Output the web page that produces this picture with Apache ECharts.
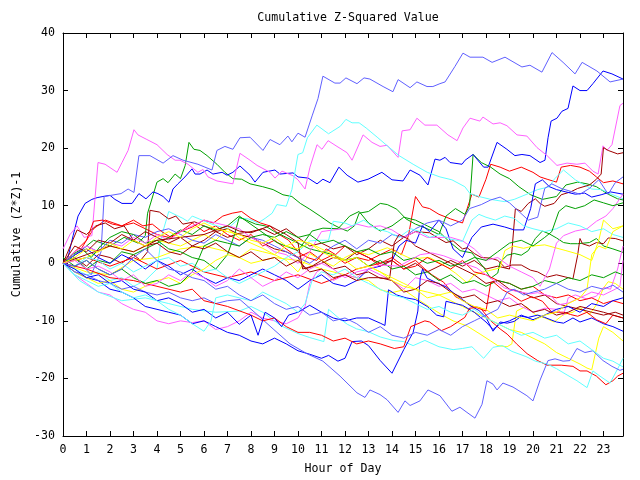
<!DOCTYPE html>
<html><head><meta charset="utf-8">
<script src="https://cdn.jsdelivr.net/npm/echarts@6/dist/echarts.min.js"></script>
<style>html,body{margin:0;padding:0;background:#fff}#c{width:640px;height:480px}</style>
</head><body><div id="c"></div><script>
// ---- Data: [hour, cumulative (Z*Z)-1] ----
const xTickLabels = ['0','1','2','3','4','5','6','7','8','9','10','11','12','13','14','15','16','17','18','19','20','21','22','23'];
const yTickValues = [-30,-20,-10,0,10,20,30,40];

const sb1 = [[0,0],[0.5,1],[1.2,-2],[1.62,2],[1.75,11.6],[2.47,12.1],[2.77,12.9],[3.02,12.3],[3.23,18.7],[3.7,18.7],[4.26,17.4],[4.68,18.7],[5.11,17.9],[5.74,17.2],[6.04,16.7],[6.34,16.2],[6.55,19.6],[6.89,20.3],[7.23,19.8],[7.53,21.8],[7.96,21.9],[8.51,19.6],[8.81,21.5],[9.23,20.6],[9.57,22.1],[9.74,21.1],[10.0,22.6],[10.3,21.9],[10.6,25.6],[10.85,28.6],[11.06,32.5],[11.57,31.3],[11.79,31.3],[12.04,32.2],[12.51,31.2],[12.81,32.2],[13.06,32.0],[13.62,30.7],[14.04,29.8],[14.26,31.9],[14.77,30.5],[15.06,31.5],[15.49,30.7],[15.74,30.7],[16.04,31.2],[16.26,31.5],[16.68,34.2],[17.02,36.5],[17.32,35.8],[17.87,35.8],[18.26,34.9],[18.81,35.8],[19.53,34.1],[19.87,34.4],[20.38,33.2],[20.81,36.6],[21.28,34.9],[21.79,32.9],[22.09,34.9],[22.72,33.4],[23.28,31.5],[23.83,32.0]];
const b1 = [[0,0],[0.2,0.8],[0.43,4.8],[0.64,8.2],[0.94,10.4],[1.23,11.1],[1.45,11.4],[1.7,11.6],[2.0,11.8],[2.21,11.1],[2.51,10.4],[2.94,10.4],[3.23,12.1],[3.53,11.2],[3.83,12.4],[4.04,12.1],[4.26,11.6],[4.51,10.6],[4.68,12.9],[4.89,13.8],[5.19,15],[5.49,16.4],[5.62,15.5],[5.83,15.5],[6.13,16.2],[6.38,15.5],[6.77,15.8],[6.98,15.3],[7.23,15.8],[7.53,16.9],[7.96,15.3],[8.17,14.1],[8.51,15.8],[9.02,16.2],[9.23,15.5],[9.79,15.7],[10.0,15],[10.43,14.8],[10.81,13.8],[11.06,14.6],[11.36,14.0],[11.74,16.7],[12.09,15.3],[12.55,14.1],[12.98,14.6],[13.57,15.8],[14.0,14.5],[14.47,14.3],[14.77,16.2],[15.19,15.3],[15.53,13.6],[15.83,18.1],[16.04,17.9],[16.26,18.4],[16.47,17.5],[16.98,17.2],[17.11,17.9],[17.45,18.9],[17.9,16.7],[18.09,16.7],[18.47,21],[18.89,19.8],[19.23,18.7],[19.53,18.9],[19.87,18.7],[20.3,17.5],[20.51,17.9],[20.64,21.8],[20.77,24.7],[21.02,25.2],[21.23,26.4],[21.49,26.9],[21.7,30.8],[22.0,30],[22.3,30],[22.55,31.2],[22.98,33.4],[23.36,32.9],[23.83,32.0]];
const m1 = [[0,2.5],[0.3,5],[0.6,6.5],[0.9,4.5],[1.23,4.8],[1.49,17.5],[1.79,17.2],[2.3,15.8],[2.51,17.5],[2.77,19.6],[3.02,23.2],[3.19,22.3],[3.57,21.5],[4.0,20.6],[4.43,18.9],[4.77,17.9],[4.98,17.9],[5.32,17.2],[5.74,15.8],[5.96,16.3],[6.17,15],[6.55,14.3],[7.23,13.8],[7.53,19.1],[7.96,17.9],[8.26,17],[8.81,15.8],[9.02,14.8],[9.32,16],[9.79,15.2],[10.0,14.5],[10.3,12.9],[10.51,16.7],[10.81,20.6],[11.02,19.8],[11.28,21.3],[11.66,20.3],[12.09,19.2],[12.3,17.9],[12.77,22.3],[13.15,21],[13.49,20.3],[13.79,20.5],[14.26,18.4],[14.43,23],[14.77,23.2],[15.06,25.2],[15.4,24],[15.91,24],[16.38,22.3],[16.77,21.3],[17.02,23.5],[17.32,25.2],[17.74,24.7],[17.87,25.4],[18.3,24.2],[18.6,24.4],[18.89,23.9],[19.32,22.3],[19.74,22.1],[20.17,20.1],[20.6,18.7],[21.02,17],[21.45,17.4],[21.87,17.2],[22.21,17.4],[22.55,16],[22.77,15.5],[22.98,20.4],[23.15,19.6],[23.36,20.6],[23.7,27.4],[23.83,27.8]];
const c1 = [[0,0],[0.5,-1],[1,-2],[1.5,-1.5],[2,-3],[2.5,-2.5],[3,-4],[3.5,-3],[4.0,-1],[4.2,4.8],[4.5,9],[5.1,7.8],[5.3,7.3],[5.5,8.2],[5.8,7.7],[6.2,7],[6.55,6.5],[7,6],[7.5,7.8],[7.9,7.7],[8.3,7],[8.6,7.8],[8.9,8.7],[9.1,10.2],[9.5,9.9],[9.74,12.8],[10.0,18.9],[10.2,19.2],[10.4,21.8],[10.8,24],[11.3,22.5],[11.8,23.8],[12.04,25],[12.3,24.4],[12.6,24.4],[12.9,23.5],[13.4,21.8],[13.8,20.4],[14.3,18.7],[14.9,17.2],[15.5,15.8],[16.04,15],[16.55,14.5],[17.1,13.3],[17.32,12.1],[17.7,11.6],[18.2,11.1],[18.8,10.7],[19.2,11.1],[19.8,12.1],[20.2,12.8],[20.7,13.3],[20.9,14.6],[21.3,16.2],[21.8,14.5],[22.1,13.8],[22.5,12.9],[22.9,12.8],[23.4,11.9],[23.83,11.2]];
const g1 = [[0,0],[0.7,2],[1.3,4],[2,3],[2.6,4.5],[3.2,3.5],[3.5,4.8],[3.6,8.7],[4.0,14.1],[4.26,14.7],[4.47,14],[4.77,15.5],[5.0,14.7],[5.2,17],[5.36,21],[5.57,19.8],[5.83,19.6],[6.13,18.7],[6.55,17.2],[6.89,15.8],[7.23,14.7],[7.6,14.6],[7.96,13.8],[8.5,13.3],[8.94,12.8],[9.36,11.9],[9.74,11.6],[10.1,10.4],[10.5,9.4],[10.94,8.2],[11.36,7],[11.79,6.1],[12.1,5.6],[12.4,6.5],[12.6,8.7],[13.0,9.0],[13.5,10.4],[13.8,10.2],[14.2,9.4],[14.6,7.7],[15.0,6.8],[15.5,6.0],[16.0,5.0],[16.3,8.2],[16.7,9.5],[17.1,8.5],[17.3,10],[17.45,18.9],[17.8,17.5],[18.2,16.7],[18.6,15.5],[19.0,14.7],[19.4,13.3],[19.9,11.9],[20.4,11.1],[21.0,11.6],[21.4,13.6],[21.9,14.1],[22.3,13.8],[22.7,13.3],[23.2,12],[23.6,11.2],[23.83,11]];
const g2 = [[0,0],[0.5,1],[1,-1],[1.5,0.5],[2,0],[2.5,2],[3,1.5],[3.5,2.5],[4,3.5],[4.5,4.5],[5,5.8],[5.5,5],[6,6.5],[6.5,5.8],[7,6.5],[7.5,8.2],[8.3,5.9],[9.1,3.6],[9.6,2.8],[10,2.2],[10.3,3.9],[10.6,5.6],[11.06,6.1],[11.7,6.0],[12,7.3],[12.2,8.2],[12.6,9],[13,7],[13.5,5.6],[14,6.5],[14.5,8],[15,7.5],[15.5,6.5],[16,5.5],[16.4,3.9],[16.9,2.2],[17.4,1.8],[17.9,-0.7],[18.2,-2.6],[18.5,-1.7],[18.6,0.2],[18.9,1.4],[19.2,1.7],[19.5,1.4],[19.8,2.2],[20.1,4.3],[20.4,5.6],[20.7,5.1],[21,4.4],[21.3,3.6],[21.6,3.4],[21.9,3.4],[22.4,3.6],[22.7,4.3],[23,3],[23.4,2.5],[23.83,1.9]];
const g3 = [[0,0],[0.4,1.5],[0.8,2.5],[1.2,1],[1.6,3],[2,4.5],[2.5,5.5],[3,5],[3.5,3.5],[4,4],[4.5,2.5],[5,2],[5.5,1],[6,0.5],[6.5,-1],[7,1.5],[7.3,5],[7.5,8],[7.8,7.5],[8.2,6.8],[8.6,6.5],[9,5.5],[9.5,4.5],[10,3.5],[10.5,2.5],[11,2],[11.5,1.5],[12,0.5],[12.5,1],[13,-0.5],[13.5,0.5],[14,-1],[14.5,-0.5],[15,-2],[15.5,-1.5],[16,-3],[16.5,-2],[17,-3.5],[17.5,-3],[18,-4],[18.5,-3],[19,-3.5],[19.5,-4.5],[20,-4],[20.5,-3],[21,-3.5],[21.5,-2.5],[22,-3],[22.5,-2],[23,-2.5],[23.5,-1.5],[23.83,-2]];
const g4 = [[0,1],[0.5,-0.5],[1,0.5],[1.5,-1],[2,-2],[2.5,-1],[3,-2.5],[3.5,-3.5],[4,-3],[4.5,-4],[5,-3.5],[5.5,-1.5],[5.8,1],[6,3],[6.5,4],[7,3.5],[7.5,3],[8,4.5],[8.5,5],[9,4.5],[9.5,5.5],[10,4.5],[10.5,5],[11,3.5],[11.5,4],[12,3],[12.5,2],[13,2.5],[13.5,1.5],[14,2],[14.5,0.5],[15,1],[15.5,0],[16,0.5],[16.5,-0.5],[17,0],[17.5,1],[18,0.5],[18.5,2],[19,3.5],[19.5,4],[20,3],[20.5,4.5],[20.8,5.5],[21.1,9],[21.4,10],[21.8,9.5],[22.2,10],[22.6,11],[23,10.5],[23.4,10],[23.83,10.5]];
const b2 = [[0,0],[0.5,1.5],[1,2.5],[1.5,1],[2,0],[2.5,1.5],[3,0.5],[3.5,-1],[4,0.5],[4.5,-0.5],[5,-2],[5.5,-1],[6,-2.5],[6.5,-3.5],[7,-2.5],[7.5,-3],[8,-2],[8.5,-1],[9,-2],[9.5,-3],[10,-4.5],[10.5,-3],[11,-2],[11.5,-3.5],[12,-4],[12.5,-3],[13,-1],[13.5,-0.5],[14,0.5],[14.3,3],[14.6,4],[15,3.5],[15.3,6.5],[15.6,5.5],[16,7.5],[16.3,6],[16.6,2.5],[17,1],[17.4,4.5],[17.8,6.3],[18.3,6.8],[18.8,6.3],[19.2,5.8],[19.6,5.8],[19.9,9.5],[20.1,13.8],[20.4,14.5],[20.7,13.3],[21,12.8],[21.4,12.4],[21.8,12],[22.2,12.2],[22.5,11.5],[22.9,11.9],[23.3,12.4],[23.83,12]];
const b3 = [[0,0],[0.5,-1.5],[1,-2.5],[1.5,-3],[2,-4.5],[2.5,-5],[3,-6],[3.5,-7.5],[4,-8],[4.5,-8.5],[5,-9],[5.5,-10.5],[6,-10],[6.5,-11],[7,-12],[7.5,-12.5],[8,-13.5],[8.5,-14],[9,-13],[9.5,-14],[10,-15.2],[10.5,-15.8],[11,-16.5],[11.3,-16],[11.7,-17],[12,-16.5],[12.3,-13.6],[12.7,-13.5],[13,-14.3],[13.5,-16.9],[14.0,-19.1],[14.5,-15],[14.9,-12],[15.1,-8.3],[15.2,-2.6],[15.3,-1],[15.5,-2.6],[15.9,-3.4],[16.3,-4.1],[16.6,-5.1],[17.0,-6.3],[17.3,-7.3],[17.7,-8.2],[18.0,-9.4],[18.3,-11.8],[18.6,-10.2],[18.9,-10.4],[19.2,-10.1],[19.5,-9.2],[19.8,-9.4],[20.2,-9],[20.5,-9.4],[21.0,-10.2],[21.3,-10.4],[21.7,-9.5],[22.0,-10.2],[22.5,-9.5],[23,-10.5],[23.4,-11],[23.83,-11.8]];
const b4 = [[0,0],[0.5,-1],[1,-2.5],[1.5,-2],[2,-3.5],[2.5,-3],[3,-4.5],[3.5,-5],[4,-6.5],[4.5,-6],[5,-7],[5.5,-8.5],[6,-8],[6.5,-9.5],[7,-8.5],[7.5,-10.6],[8,-9],[8.3,-12.5],[8.6,-8.5],[9,-9.5],[9.3,-11],[9.6,-9],[10,-8.5],[10.5,-7.3],[11,-8.5],[11.5,-9.5],[12,-10],[12.5,-9.5],[13,-9.5],[13.5,-10.4],[13.7,-10.8],[13.85,-4.6],[14.2,-5.5],[14.6,-6],[15,-6.3],[15.5,-7.5],[15.9,-9],[16.2,-9.3],[16.3,-6.6],[16.7,-7],[17,-7.3],[17.5,-8.5],[18,-10.2],[18.3,-11.5],[18.6,-10.5],[19,-10],[19.5,-9],[20,-9.8],[20.5,-9],[21,-8],[21.5,-7.5],[22,-8.5],[22.5,-7],[23,-7.5],[23.4,-6.5],[23.83,-6]];
const m2 = [[0,0],[0.5,-2],[1,-3.5],[1.5,-5],[2,-5.5],[2.5,-7],[3,-8],[3.5,-8.5],[4,-10],[4.5,-10.5],[5,-10],[5.5,-10.3],[6,-10],[6.5,-11.5],[7,-11],[7.5,-10],[8,-8.5],[8.5,-9.5],[9,-10],[9.5,-10.5],[10,-9.5],[10.3,-7.5],[10.5,-3.5],[10.8,-1.5],[11,-1],[11.5,-3],[12,-2],[12.5,-2.5],[13,-1],[13.5,-2],[14,-3],[14.5,-4.5],[15,-2.5],[15.5,-3],[16,-4],[16.5,-3.5],[17,-5],[17.5,-4.5],[18,-5.5],[18.5,-6.5],[19,-6],[19.5,-7.5],[20,-8.5],[20.5,-7.8],[21,-8],[21.3,-9],[21.5,-6],[21.8,-5.5],[22,-5.8],[22.3,-6.2],[22.7,-5.7],[23,-4.2],[23.3,-4.5],[23.6,-1],[23.83,3]];
const m3 = [[0,0],[0.5,2],[1,3],[1.5,2],[2,3.5],[2.5,3],[3,4.5],[3.5,3.5],[4,5],[4.5,4],[5,5.5],[5.5,6.5],[6,7.5],[6.5,7],[7,6.5],[7.5,6],[8,4.5],[8.5,3.5],[9,2],[9.5,1.5],[10,0],[10.5,2],[11,5.5],[11.5,5.8],[12,6],[12.5,6.8],[13,6.3],[13.5,6.5],[14,5.8],[14.5,4.5],[15,5.5],[15.5,4.5],[16,4.5],[16.5,4.5],[17,3.9],[17.5,2.5],[18,0.5],[18.5,1],[19,-0.5],[19.5,-1.5],[20,-2.5],[20.3,-4],[20.7,-1],[21,3.5],[21.3,4.8],[21.8,5.6],[22.3,6],[22.7,7.3],[23.1,8.2],[23.4,9.5],[23.83,12]];
const m4 = [[0,0],[0.5,0.5],[1,-1],[1.5,-0.5],[2,-1.5],[2.5,-3],[3,-2],[3.5,-4],[4,-3.5],[4.5,-2],[5,-3],[5.5,-1.5],[6,-2.5],[6.5,-4],[7,-3],[7.5,-1],[8,-2.5],[8.5,-4],[9,-3],[9.5,-1.5],[10,-2.5],[10.5,-1],[11,0],[11.5,-1],[12,-2.5],[12.5,-1.5],[13,-1],[13.5,-0.3],[14.3,-0.5],[15.2,1.5],[15.7,1.8],[16.2,1.3],[16.9,0.2],[17.6,-0.8],[18.2,-2.6],[18.8,-4.3],[19.3,-4.9],[19.9,-5.3],[20.2,-5.1],[20.8,-5.8],[21.1,-7.2],[21.5,-6.9],[22,-6],[22.5,-5],[23,-5.5],[23.5,-4.5],[23.7,-4],[23.83,0.5]];
const c2 = [[0,0],[0.7,-3],[1.5,-5],[2.5,-6.5],[3.5,-6],[4.5,-7],[5.5,-8],[6.5,-8.5],[7.5,-8.3],[8,-7.5],[8.5,-8.5],[9.3,-10.9],[10,-12.2],[10.5,-12.9],[11.1,-13.6],[11.3,-8],[11.7,-9.4],[12.1,-10.6],[12.5,-11.4],[13,-11.9],[13.5,-12.8],[14.05,-13.4],[14.5,-13.6],[14.9,-14.3],[15.4,-13.4],[16.0,-14.5],[16.6,-15],[17.0,-14.8],[17.4,-14.5],[17.9,-16.5],[18.3,-14.6],[18.7,-14.3],[19.1,-15.3],[19.7,-16.2],[20.1,-17],[20.6,-17.5],[21.0,-18.3],[21.45,-19.4],[21.87,-20.4],[22.3,-21.6],[22.55,-18.7],[22.85,-19.6],[23.28,-20.8],[23.62,-18.2],[23.83,-16.5]];
const c3 = [[0,0],[0.5,-0.5],[1,1],[1.5,0.5],[2,-1],[2.5,0],[3,-1.5],[3.5,-0.5],[4,0.5],[4.5,1],[5,-0.5],[5.5,0],[6,-1.5],[6.5,-1],[7,-2.5],[7.5,-3.5],[8,-2.5],[8.5,-1.5],[9,-0.5],[9.5,1],[10,2],[10.5,3.9],[11,4],[11.3,4],[11.5,7.3],[12,7],[12.3,6.5],[12.8,7.5],[13.3,6],[13.8,5.5],[14.3,4.5],[14.8,6],[15.2,5.5],[15.6,4.5],[16,5],[16.5,4.2],[17,3.8],[17.4,7.5],[17.7,8.5],[18,8],[18.4,7.5],[18.8,8.2],[19.2,7.8],[19.6,6.5],[20,6],[20.5,5.5],[21,6],[21.5,7],[22,6.5],[22.5,5.5],[23,6],[23.4,5],[23.83,4.5]];
const c4 = [[0,0],[0.5,-2],[1,-3],[1.5,-4],[2,-3.5],[2.5,-5],[3,-6],[3.5,-5.5],[4,-6.5],[4.5,-8],[5,-9],[5.5,-10.5],[6,-11.8],[6.3,-10],[6.5,-6],[7,-5.5],[7.5,-6],[8,-6.5],[8.5,-5],[9,-6],[9.5,-7],[10,-8.5],[10.3,-7],[10.6,-3],[11,-1.5],[11.5,-2],[12,-1],[12.5,-2.5],[13,-3.5],[13.5,-4.5],[14,-5.5],[14.5,-6],[15,-7],[15.5,-8],[16,-7.5],[16.5,-8.5],[17,-9],[17.5,-8],[18,-9.5],[18.5,-10.5],[19,-11.5],[19.5,-12.5],[20,-12],[20.5,-13],[21,-12.5],[21.5,-14],[22,-13.5],[22.5,-15],[23,-16.5],[23.4,-17],[23.83,-18]];
const dr1 = [[0,0],[0.5,1],[1,-0.5],[1.5,1.5],[2,1],[2.5,0],[3,1.5],[3.3,0.5],[3.6,2],[3.7,9.2],[4.1,8.9],[4.5,7.7],[4.8,8.2],[5.1,6.8],[5.6,7.2],[6.1,6.3],[6.5,5.5],[7,6],[7.5,5],[8,4.5],[8.5,3.5],[9,2.5],[9.5,2],[10,1],[10.3,-1],[11,0],[11.5,1],[12,0.5],[12.5,2],[13,1],[13.5,0],[14,0.5],[14.5,-1],[15,0],[15.5,-1.5],[16,-0.5],[16.5,0.5],[17,-0.5],[17.5,0.5],[18,-1],[18.5,-0.5],[19.0,-1],[19.1,2],[19.25,9.5],[19.5,9],[19.8,10.4],[20.1,11.2],[20.3,10.4],[20.5,9.9],[20.9,10.4],[21.2,11.9],[21.6,12.4],[21.9,13],[22.4,13.6],[22.7,14.6],[22.9,15.5],[23.0,20.1],[23.2,19.6],[23.6,19],[23.83,19.2]];
const dr2 = [[0,0],[0.6,5.8],[1.0,5],[1.4,6.5],[1.8,7],[2.2,6],[2.6,6.5],[3,4],[3.5,3],[4,3.5],[4.5,2],[5,1.5],[5.5,3],[6,4],[6.5,5.5],[7,4.5],[7.5,5.2],[8,5.5],[8.5,6],[9,5],[9.5,6],[10,4.5],[10.5,3],[11,3.5],[11.5,2.5],[12,3],[12.5,1.5],[13,2.5],[13.5,4],[14,3],[14.5,4.5],[15,5.5],[15.6,5.3],[16,4.3],[16.3,3.6],[16.6,3.9],[17,2.5],[17.2,2.7],[17.5,1.7],[17.8,1],[18.2,0.9],[18.5,0.5],[18.8,-0.7],[19.1,-0.3],[19.5,-0.3],[19.9,-1.2],[20.2,-1.5],[20.6,-2.4],[21,-2],[21.4,-2.4],[21.7,-2.7],[21.9,1.4],[22.0,4.3],[22.1,3.4],[22.4,3],[22.7,3.6],[23,3.4],[23.2,4.4],[23.5,4.3],[23.83,3.9]];
const dr3 = [[0,0],[1,1.5],[2,3],[3,2],[4,4],[5,4.5],[6,5],[7,6.5],[7.5,5.6],[8,5.3],[8.8,6.5],[9.5,5],[10,3.6],[10.2,-1],[10.6,-0.5],[11,0.5],[11.5,-1],[12,-0.5],[12.5,-2],[13,-1.5],[13.5,-2.6],[13.9,-2.6],[14.1,3.6],[14.3,5],[14.7,4.2],[15,3],[15.5,2],[16,1],[16.5,0],[17,-1],[17.5,-2],[18,-3.5],[18.5,-3],[19,-4.5],[19.5,-5],[20,-6],[20.5,-5.5],[21,-7],[21.5,-7.5],[22,-8],[22.5,-8.5],[23,-9],[23.5,-8.5],[23.83,-9]];
const dr4 = [[0,0],[0.5,3],[1,2],[1.5,4],[2,3.5],[2.5,5],[3,4],[3.5,5.5],[4,4.5],[4.5,3.5],[5,4.5],[5.5,3],[6,2.5],[6.5,3.5],[7,2],[7.5,1],[8,2],[8.5,0.5],[9,1],[9.5,-0.5],[10,0.5],[10.5,-1.5],[11,-1],[11.5,-2.5],[12,-2],[12.5,-3],[13,-2.5],[13.5,-2.5],[14,-3],[14.5,-5],[15,-4.5],[15.5,-3],[16,-3.5],[16.5,-5],[17,-6],[17.5,-5.5],[18,-7],[18.5,-6.5],[19,-7.5],[19.5,-7],[20,-8.5],[20.5,-8],[21,-9],[21.5,-8.5],[22,-7.5],[22.5,-8],[23,-8.5],[23.4,-9],[23.83,-9.5]];
const r1 = [[0,0],[0.7,2],[1.3,6],[1.8,7.5],[2.5,6.5],[3,7],[3.5,6],[4,5],[4.5,4.5],[5,5.5],[5.5,7],[6,5.5],[6.5,6.5],[7,5],[7.5,4],[8,5],[8.5,3],[9,4],[9.5,2.5],[10,1],[10.5,2],[11,0.5],[11.5,1.5],[12,0],[12.5,1],[13,0.5],[13.5,1.5],[14,2.5],[14.4,1.5],[14.7,4.8],[15.0,11.6],[15.3,9.8],[15.6,9.5],[16.0,8.5],[16.5,7.7],[17.0,7],[17.2,9.5],[17.4,12],[17.7,11.5],[18.0,14.6],[18.2,17.2],[18.6,16.7],[19.0,16],[19.5,16.7],[20,15.8],[20.3,15],[20.6,14.6],[21,14.1],[21.2,16.7],[21.6,17],[22,16.7],[22.4,16],[22.7,15],[23.0,14],[23.4,14.3],[23.83,13.8]];
const r2 = [[0,0],[1,1],[2,-0.5],[3,1],[4,-1],[5,0.5],[6,-1.5],[7,-2.5],[8,-1.5],[9,-3],[10,-2],[11,-3.5],[12,-2],[12.5,-1],[13,-0.5],[13.5,0],[14,1],[14.5,-0.5],[15,0.5],[15.4,-1],[15.7,-2],[16.2,-3.3],[16.7,-5.8],[17.1,-6.6],[17.4,-7.5],[17.75,-7.7],[18.2,-10],[18.6,-11.4],[18.9,-12.3],[19.3,-14],[19.75,-15.7],[20.2,-16.9],[20.6,-17.7],[21.2,-17.7],[21.7,-17.9],[22.0,-18.7],[22.3,-18.7],[22.7,-19.6],[23.1,-21.1],[23.4,-20.4],[23.6,-19.6],[23.83,-19.1]];
const r3 = [[0,0],[0.5,2],[1,4],[1.3,7.3],[1.7,7.5],[2.1,6.8],[2.5,6.5],[3,7.5],[3.4,6.5],[3.8,6.8],[4.2,5.5],[4.6,4.5],[5,5.5],[5.5,6.3],[6,7.5],[6.4,7],[6.8,8.2],[7.2,8.7],[7.6,9],[8,7.8],[8.4,7],[8.8,6.5],[9.2,5],[9.6,4],[10,2],[10.4,1],[10.8,0.5],[11.2,2.5],[11.6,1.5],[12,3],[12.5,2],[13,1],[13.5,-0.5],[14,0.5],[14.5,-1],[15,-0.5],[15.5,1],[16,0],[16.5,-1],[17,0.5],[17.5,-1.5],[18,-2],[18.5,-3],[19,-3.5],[19.5,-4.5],[20,-4],[20.5,-5.5],[21,-6],[21.5,-5.5],[22,-6.5],[22.5,-6],[23,-7],[23.4,-6.5],[23.83,-7]];
const r4 = [[0,0],[1,-1],[2,-2.5],[3,-3],[4,-4],[5,-5],[5.5,-4.5],[6,-6.5],[7,-7.5],[8,-9],[8.5,-10],[9,-9.5],[9.5,-11],[10,-12],[10.5,-12],[11,-12.5],[11.5,-13.5],[12,-13],[12.5,-14],[13,-13.5],[13.5,-14],[14.1,-14.8],[14.5,-14.5],[14.8,-11],[15.4,-10],[15.6,-10.2],[16.1,-11.7],[16.5,-11],[16.8,-10.2],[17.1,-9.4],[17.3,-7.8],[17.6,-7.7],[18.0,-8.3],[18.2,-3.4],[18.3,-3.2],[18.7,-4.6],[19.1,-5.5],[19.5,-6.6],[19.95,-5.8],[20.4,-6.6],[20.8,-8.5],[21.3,-8.5],[21.6,-8.9],[21.9,-9.2],[22.3,-8.5],[22.7,-9.8],[23.1,-10.5],[23.4,-9],[23.83,-9.5]];
const y1 = [[0,0],[1,-1.5],[2,-2],[3,0.5],[4,1],[5,2.5],[6,3],[7,2],[8,0],[9,1],[10,0.5],[11,-1],[12,-2],[13,-3],[13.5,-4.6],[14,-5.1],[14.5,-4.6],[15,-6],[15.6,-7.6],[16.1,-8.9],[16.6,-10],[17.2,-10.9],[17.75,-12.3],[18.2,-13.5],[18.5,-14.3],[18.9,-14.5],[19.1,-14],[19.3,-8.3],[19.7,-7.5],[20.1,-8.9],[20.5,-9.5],[20.9,-10.2],[21.3,-8.9],[21.7,-8.5],[22,-7.7],[22.4,-8.9],[22.7,-7.2],[23,-4.3],[23.2,-3.2],[23.5,-3.5],[23.83,-4.5]];
const y2 = [[0,0],[1,1],[2,3],[3,2],[4,4],[5,3],[6,5],[6.5,4],[7,6],[7.5,4.4],[8,3.5],[8.5,2.6],[9,1.5],[9.5,0.5],[10,-1.5],[10.5,1.7],[11,0.5],[11.5,-0.5],[12,1],[12.5,2],[13,1.5],[13.8,2.7],[14.8,0.8],[15.6,1.0],[16.2,-0.3],[16.7,-1.7],[17.2,-3.4],[17.5,-2],[17.9,-1.5],[18.6,-0.8],[18.8,2.2],[19.15,3],[19.6,2.6],[20.0,3],[20.5,3.2],[21.4,2.2],[22,1.5],[22.5,0.5],[22.8,4],[23,7.5],[23.4,6],[23.83,6.5]];
const y3 = [[0,0],[0.5,-1.5],[1,-2.5],[1.5,-3.5],[2,-3],[2.5,-4.5],[3,-5],[3.5,-4],[4,-3],[4.5,-2.5],[5,-3.5],[5.5,-2],[6,-1],[6.5,0.5],[7,1.5],[7.5,1],[8,2.5],[8.5,2],[9,1.5],[9.5,3],[10,4],[10.5,3.5],[11,2.5],[11.5,1.5],[12,0.5],[12.5,1],[13,-0.5],[13.5,-1.5],[14,-2.5],[14.5,-3.5],[15,-4.5],[15.5,-5],[16,-5.5],[16.5,-6.5],[17,-7.5],[17.5,-8.5],[18,-9.5],[18.5,-10.5],[19,-11.5],[19.5,-12],[20,-13],[20.5,-14],[21,-15.5],[21.5,-16.5],[22,-17.5],[22.3,-18.2],[22.5,-18.5],[22.8,-13],[23,-11],[23.4,-12],[23.83,-13.5]];
const y4 = [[0,0],[0.5,1],[1,2.5],[1.5,2],[2,3.5],[2.5,2.5],[3,4],[3.5,3],[4,4.5],[4.5,5.5],[5,4.5],[5.5,6],[6,7],[6.5,6],[7,5.5],[7.5,5],[8,4],[8.5,3.5],[9,4.5],[9.5,3],[10,2.5],[10.5,3.5],[11,2],[11.5,1],[12,0.5],[12.5,-1],[13,-0.5],[13.5,-1.5],[14,-3],[14.5,-4],[15,-4.5],[15.5,-6],[16,-5.5],[16.5,-5],[17,-6.5],[17.5,-7.5],[18,-8],[18.5,-9.5],[19,-9],[19.5,-9.5],[20,-10],[20.5,-9],[21,-8.5],[21.5,-7],[22,-6],[22.3,-4.5],[22.5,1.5],[22.8,3],[23.1,2.5],[23.4,5.5],[23.83,6.5]];
const sb2 = [[0,0],[0.5,1.5],[1,3],[1.5,2],[2,4],[2.5,3.5],[3,5],[3.5,4.5],[4,5.5],[4.5,6],[5,5],[5.5,4],[6,3.5],[6.5,5],[7,4],[7.5,3],[8,4.5],[8.5,4],[9,3],[9.5,2],[10,1],[10.5,0],[11,1.5],[11.5,3],[12,4],[12.5,2.5],[13,4],[13.5,3.5],[14,5],[14.5,4.5],[15,6],[15.5,7],[16,7.5],[16.5,6.5],[17,7.5],[17.3,9.5],[17.8,10.2],[18.2,11],[18.6,11.5],[19,10.5],[19.4,9],[19.8,7.5],[20.2,8],[20.5,13],[20.8,13.8],[21.2,13],[21.6,12.5],[22,12],[22.4,13],[22.8,14.5],[23.2,12],[23.5,14],[23.83,15]];
const sb3 = [[0,0],[0.5,-1.5],[1,-2],[1.5,-3],[2,-3.5],[2.5,-4.5],[3,-4],[3.5,-5],[4,-5.5],[4.5,-5],[5,-6],[5.5,-6.5],[6,-6],[6.5,-7],[7,-6.5],[7.53,-6.3],[8.26,-8.9],[8.94,-11.4],[9.66,-14],[10.38,-15.7],[11.06,-17],[11.79,-19.6],[12.51,-22.5],[12.85,-23.3],[13.06,-22],[13.49,-22.8],[13.79,-23.7],[14.26,-25.9],[14.55,-23.9],[14.77,-24.7],[15.19,-23.9],[15.53,-22],[16.04,-23],[16.55,-25.7],[16.89,-25],[17.19,-25.9],[17.53,-26.9],[17.83,-24.5],[18.04,-20.4],[18.3,-21],[18.47,-22],[18.72,-20.8],[19.15,-21.5],[19.74,-23],[20.0,-23.9],[20.3,-20.3],[20.64,-16.9],[20.94,-16.6],[21.28,-17],[21.57,-16.9],[21.87,-14.8],[22.21,-15.5],[22.55,-15.2],[22.98,-16.9],[23.36,-17.9],[23.7,-18.6],[23.83,-18.4]];
const sb4 = [[0,0],[0.5,-0.5],[1,0.5],[1.5,-1],[2,-2],[2.5,-1],[3,1],[3.5,2.5],[4,0.5],[4.5,-1],[5,-1.5],[5.5,-2.5],[6,-3],[6.5,-4.5],[7,-4],[7.5,-5.5],[8,-6.5],[8.5,-5.5],[9,-7],[9.5,-8],[10,-7.5],[10.5,-9],[11,-8.5],[11.5,-10],[12,-9.5],[12.5,-10.5],[13,-12],[13.5,-11],[14,-12.5],[14.5,-13],[15,-12],[15.5,-12.5],[16,-11.5],[16.5,-12.5],[17,-11],[17.5,-10],[18,-9],[18.5,-8],[18.9,-5],[19.2,-4.5],[19.6,-5.5],[20,-5],[20.5,-4.5],[21,-3.5],[21.5,-4.5],[22,-5],[22.5,-4],[23,-4.5],[23.4,-3.8],[23.83,-5]];

// ---- Colours (gnuplot palette) ----
const RED='#ff0000', GREEN='#00a000', BLUE='#0000ff', MAG='#ff60ff', CYAN='#60ffff', DRED='#a00000', YEL='#ffff00', SLATE='#6060ff';
const lines = [
  [r1,RED],[g1,GREEN],[b1,BLUE],[m1,MAG],[c1,CYAN],[dr1,DRED],[y1,YEL],[sb1,SLATE],
  [r2,RED],[g2,GREEN],[b2,BLUE],[m2,MAG],[c2,CYAN],[dr2,DRED],[y2,YEL],[sb2,SLATE],
  [r3,RED],[g3,GREEN],[b3,BLUE],[m3,MAG],[c3,CYAN],[dr3,DRED],[y3,YEL],[sb3,SLATE],
  [r4,RED],[g4,GREEN],[b4,BLUE],[m4,MAG],[c4,CYAN],[dr4,DRED],[y4,YEL],[sb4,SLATE]
];

const FONT = 'DejaVu Sans Mono';
const XMAX = 23.83;
const chart = echarts.init(document.getElementById('c'), null, {renderer:'canvas'});
const axisBase = {
  axisLine:{show:true, onZero:false, lineStyle:{color:'#000', width:1}},
  axisTick:{show:true, inside:true, length:5, lineStyle:{color:'#000'}},
  splitLine:{show:false}
};
chart.setOption({
  animation:false,
  backgroundColor:'#fff',
  title:{text:'Cumulative Z-Squared Value', left:343, top:7, textAlign:'center',
    textStyle:{fontFamily:FONT, fontSize:11.6, fontWeight:'normal', color:'#000'}},
  grid:{left:63, right:17, top:33, bottom:36},
  xAxis:[
    Object.assign({type:'value', min:0, max:XMAX, interval:1, position:'bottom',
      name:'Hour of Day', nameLocation:'middle', nameGap:27,
      nameTextStyle:{fontFamily:FONT, fontSize:11.6, color:'#000'},
      axisLabel:{fontFamily:FONT, fontSize:11.6, color:'#000', margin:8, showMaxLabel:false,
        formatter:v=>xTickLabels[Math.round(v)] ?? ''}}, axisBase),
    Object.assign({type:'value', min:0, max:XMAX, interval:1, position:'top',
      axisLabel:{show:false}}, axisBase)
  ],
  yAxis:[
    Object.assign({type:'value', min:yTickValues[0], max:yTickValues[yTickValues.length-1], interval:10, position:'left',
      name:'Cumulative (Z*Z)-1', nameLocation:'middle', nameGap:38, nameRotate:90,
      nameTextStyle:{fontFamily:FONT, fontSize:11.6, color:'#000'},
      axisLabel:{fontFamily:FONT, fontSize:11.6, color:'#000', margin:8}}, axisBase),
    Object.assign({type:'value', min:yTickValues[0], max:yTickValues[yTickValues.length-1], interval:10, position:'right',
      axisLabel:{show:false}}, axisBase)
  ],
  series: lines.map(([d,col],i)=>({
    type:'line', name:'s'+i, data:d, xAxisIndex:0, yAxisIndex:0,
    showSymbol:false, symbol:'none', silent:true,
    lineStyle:{color:col, width:1}, itemStyle:{color:col}
  }))
});
</script></body></html>
